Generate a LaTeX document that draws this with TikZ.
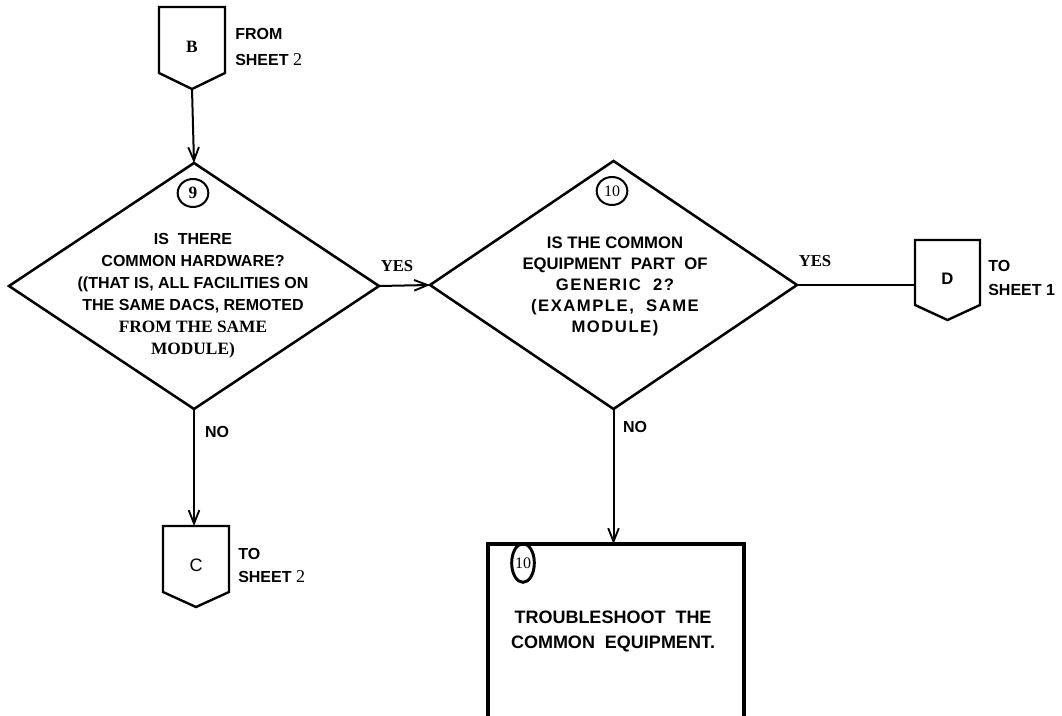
\documentclass[tikz,border=0pt]{standalone}
\usepackage{fontspec}
\setmainfont{Liberation Serif}
\setsansfont{Liberation Sans}
\newfontfamily\spacedsans[LetterSpace=9]{Liberation Sans}
\usetikzlibrary{shapes.geometric,arrows.meta,calc}

\begin{document}
\begin{tikzpicture}[x=0.75pt,y=-0.75pt,
  flow/.style={line width=1.5pt},
  arr/.style={flow,-{Straight Barb[length=10pt,width=8pt,line width=1.4pt]}},
  decision/.style={diamond,draw,line width=1.9pt,inner sep=0pt,outer sep=0pt},
  offpage/.style={rectangle,inner sep=0pt,outer sep=0pt,minimum width=49.5pt,minimum height=49.5pt},
  outline/.style={line width=1.8pt,line join=miter},
  qtext/.style={align=center,inner sep=0pt,font=\sffamily\bfseries\fontsize{12}{16.5}\selectfont},
  note/.style={align=left,anchor=west,inner sep=0pt},
  lbl/.style={inner sep=0pt,font=\sffamily\bfseries\fontsize{12}{14}\selectfont},
  seriflbl/.style={inner sep=0pt,font=\rmfamily\bfseries\fontsize{12.5}{14}\selectfont},
  stepno/.style={ellipse,draw,line width=1.5pt,inner sep=0pt,font=\rmfamily\bfseries\fontsize{13}{14}\selectfont},
  letter/.style={inner sep=0pt,yshift=-5pt},
]
\useasboundingbox (0,0) rectangle (1062,716);

% ---- off-page connector B (from sheet 2)
\node[offpage,label={[letter,font=\rmfamily\bfseries\fontsize{13}{14}\selectfont]center:B}] (B) at (192,40) {};
\coordinate (Btip) at ($(B.south)+(0,16)$);
\draw[outline] (B.south west) -- (B.north west) -- (B.north east) -- (B.south east) -- (Btip) -- cycle;
\node[note,font=\sffamily\bfseries\fontsize{12}{19.5}\selectfont] (Bnote) at (235,47)
  {FROM\\SHEET {\rmfamily\mdseries\fontsize{13.5}{19.5}\selectfont 2}};

% ---- decision 9
\node[decision,minimum width=277.5pt,minimum height=184.5pt] (d9) at (194,286) {};
\node[stepno,minimum width=23pt,minimum height=21pt] (n9) at (193,193) {9};
\node[qtext] (q9) at (193,296)
  {IS\ \ THERE\\
   COMMON HARDWARE?\\
   ((THAT IS, ALL FACILITIES ON\\
   THE SAME DACS, REMOTED\\
   {\rmfamily\bfseries\fontsize{13}{16.5}\selectfont FROM THE SAME}\\
   {\rmfamily\bfseries\fontsize{13}{16.5}\selectfont MODULE)}};

% ---- decision 10
\node[decision,minimum width=275.25pt,minimum height=186pt] (d10) at (613.5,285) {};
\node[stepno,minimum width=23pt,minimum height=21pt,font=\rmfamily\fontsize{12}{12}\selectfont] (n10) at (612,191) {10};
\node[qtext,font=\sffamily\bfseries\fontsize{12.5}{15.75}\selectfont] (q10) at (615,286)
  {IS THE COMMON\\
   EQUIPMENT\ \ PART\ \ OF\\
   {\spacedsans\bfseries GENERIC\ \ 2?}\\
   {\spacedsans\bfseries (EXAMPLE,\ \ SAME}\\
   {\spacedsans\bfseries MODULE)}};

% ---- off-page connector D (to sheet 1)
\node[offpage,minimum width=48.75pt,minimum height=48.75pt,
      label={[letter,font=\sffamily\bfseries\fontsize{12.5}{14}\selectfont]center:D}] (D) at (947.5,272.5) {};
\coordinate (Dtip) at ($(D.south)+(0,15)$);
\draw[outline] (D.south west) -- (D.north west) -- (D.north east) -- (D.south east) -- (Dtip) -- cycle;
\node[note,font=\sffamily\bfseries\fontsize{12}{18}\selectfont] (Dnote) at (988,278) {TO\\SHEET 1};

% ---- off-page connector C (to sheet 2)
\node[offpage,label={[letter,font=\sffamily\fontsize{13.5}{14}\selectfont]center:C}] (C) at (196,559) {};
\coordinate (Ctip) at ($(C.south)+(0,15)$);
\draw[outline] (C.south west) -- (C.north west) -- (C.north east) -- (C.south east) -- (Ctip) -- cycle;
\node[note,font=\sffamily\bfseries\fontsize{12}{17.25}\selectfont] (Cnote) at (238,565)
  {TO\\SHEET {\rmfamily\mdseries\fontsize{13.5}{17.25}\selectfont 2}};

% ---- action box (open at the lower edge)
\node[rectangle,inner sep=0pt,outer sep=0pt,minimum width=192pt,minimum height=129pt] (tb) at (616,630) {};
\draw[line width=2.3pt,line join=miter] (tb.south west) -- (tb.north west) -- (tb.north east) -- (tb.south east);
\node[ellipse,draw,line width=2.2pt,inner sep=0pt,minimum width=17pt,minimum height=29pt,
      font=\rmfamily\fontsize{12}{12}\selectfont] (n10b) at (523,563) {10};
\node[qtext,font=\sffamily\bfseries\fontsize{13.5}{18.75}\selectfont] (act) at (613,631)
  {TROUBLESHOOT\ \ THE\\COMMON\ \ EQUIPMENT.};

% ---- connectors
\draw[arr] (Btip) -- (d9.north);
\draw[arr] (d9.east) -- (d10.west);
\draw[flow] (d10.east) -- (d10.east -| D.west);
\draw[arr] (d9.south) -- (d9.south |- C.north);
\draw[arr] (d10.south) -- (d10.south |- tb.north);

% ---- branch labels
\node[seriflbl] (yes9) at (397,266) {YES};
\node[seriflbl] (yes10) at (815,261) {YES};
\node[lbl] (no9) at (217,432) {NO};
\node[lbl] (no10) at (635,427) {NO};
\end{tikzpicture}
\end{document}
